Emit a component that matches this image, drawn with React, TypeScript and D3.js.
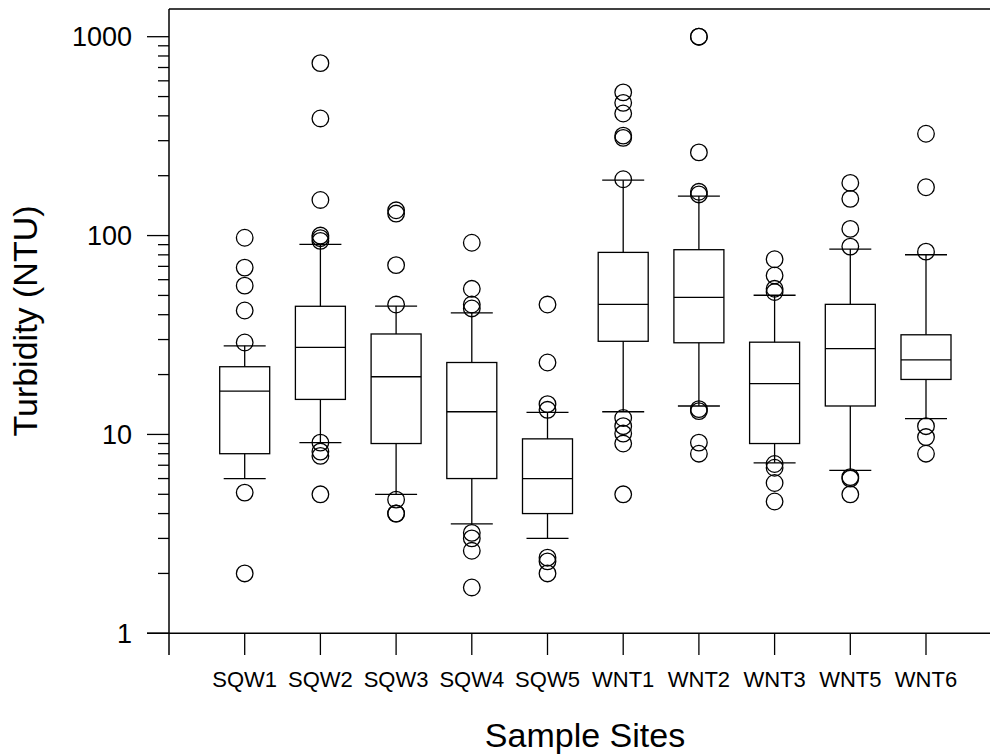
import React from "react";
import * as d3 from "d3";

const sites = ["SQW1", "SQW2", "SQW3", "SQW4", "SQW5", "WNT1", "WNT2", "WNT3", "WNT5", "WNT6"];
const whiskerLow = [6.0, 9.1, 5.0, 3.55, 3.0, 13.0, 13.9, 7.2, 6.6, 12.0];
const q1 = [8.0, 15.0, 9.0, 6.0, 4.0, 29.4, 28.9, 9.0, 13.9, 18.9];
const median = [16.5, 27.4, 19.5, 13.0, 6.0, 45.1, 48.9, 18.0, 27.0, 23.7];
const q3 = [21.9, 44.1, 32.0, 23.0, 9.5, 82.3, 84.9, 29.1, 45.1, 31.7];
const whiskerHigh = [27.9, 90.3, 44.2, 40.9, 12.9, 190, 158, 50.1, 85.5, 80.1];
const outliers = [
  [97.5, 69, 56, 42, 29, 5.1, 2.0],
  [736, 388, 151, 100, 97, 94, 9.1, 8.2, 7.8, 5.0],
  [134, 129, 71, 45, 4.7, 4.0, 4.0],
  [92, 54, 45, 43, 3.2, 3.0, 2.6, 1.7],
  [45, 23, 14.2, 13.3, 2.4, 2.3, 2.0],
  [525, 465, 411, 318, 310, 192, 12.1, 11, 10.1, 9.0, 5.0],
  [1000, 1000, 262, 166, 161, 13.4, 13.1, 9.1, 8.0],
  [76, 63, 54, 52, 7.1, 6.8, 5.7, 4.6],
  [184, 153, 108, 88, 6.1, 6.0, 5.0],
  [325, 175, 83, 11, 9.7, 8.0],
];
const majorTicks = [1, 10, 100, 1000];
const minorTicks = [2, 3, 4, 5, 6, 7, 8, 9, 20, 30, 40, 50, 60, 70, 80, 90, 200, 300, 400, 500, 600, 700, 800, 900];

const W = 990;
const H = 755;
const left = 169;
const top = 9;
const bottom = 633.3;
const FONT = "'Liberation Sans', Arial, Helvetica, sans-serif";

export default function App() {
  const y = d3.scaleLog().domain([1, 1000]).range([bottom, 36.7]);
  const x = d3.scaleLinear().domain([0, sites.length + 1]).range([left, left + 75.7 * (sites.length + 1)]);
  const boxW = 50;
  const capW = 42;
  const r = 8.3;
  const sw = 1.3;

  return (
    <svg width={W} height={H} style={{ position: "absolute", left: 0, top: 0, background: "#fff" }}>
      <rect x={0} y={0} width={W} height={H} fill="#fff" />
      {/* frame */}
      <line x1={left} y1={top} x2={W} y2={top} stroke="#000" strokeWidth={1.5} />
      <line x1={left} y1={top} x2={left} y2={655} stroke="#000" strokeWidth={1.5} />
      <line x1={147} y1={bottom} x2={W} y2={bottom} stroke="#000" strokeWidth={1.5} />
      {/* y ticks */}
      {majorTicks.map((t) => (
        <g key={"M" + t}>
          <line x1={147} x2={left} y1={y(t)} y2={y(t)} stroke="#000" strokeWidth={1.3} />
          <text x={132} y={y(t)} dy="0.36em" textAnchor="end" fontFamily={FONT} fontSize={27}>
            {t}
          </text>
        </g>
      ))}
      {minorTicks.map((t) => (
        <line key={"m" + t} x1={158} x2={left} y1={y(t)} y2={y(t)} stroke="#000" strokeWidth={1.3} />
      ))}
      {/* x ticks */}
      {sites.map((s, i) => (
        <g key={s}>
          <line x1={x(i + 1)} x2={x(i + 1)} y1={bottom} y2={655} stroke="#000" strokeWidth={1.3} />
          <text x={x(i + 1)} y={687} textAnchor="middle" fontFamily={FONT} fontSize={22}>
            {s}
          </text>
        </g>
      ))}
      {/* boxes */}
      {sites.map((s, i) => {
        const cx = x(i + 1);
        return (
          <g key={"b" + s} stroke="#000" strokeWidth={sw} fill="none">
            <line x1={cx} x2={cx} y1={y(whiskerHigh[i])} y2={y(q3[i])} />
            <line x1={cx} x2={cx} y1={y(q1[i])} y2={y(whiskerLow[i])} />
            <line x1={cx - capW / 2} x2={cx + capW / 2} y1={y(whiskerHigh[i])} y2={y(whiskerHigh[i])} />
            <line x1={cx - capW / 2} x2={cx + capW / 2} y1={y(whiskerLow[i])} y2={y(whiskerLow[i])} />
            <rect x={cx - boxW / 2} y={y(q3[i])} width={boxW} height={y(q1[i]) - y(q3[i])} />
            <line x1={cx - boxW / 2} x2={cx + boxW / 2} y1={y(median[i])} y2={y(median[i])} />
            {outliers[i].map((v, j) => (
              <circle key={j} cx={cx} cy={y(v)} r={r} />
            ))}
          </g>
        );
      })}
      {/* axis titles */}
      <text x={585} y={747} textAnchor="middle" fontFamily={FONT} fontSize={34}>
        Sample Sites
      </text>
      <text
        transform={`translate(37, 321) rotate(-90)`}
        textAnchor="middle"
        fontFamily={FONT}
        fontSize={34}
      >
        Turbidity (NTU)
      </text>
    </svg>
  );
}
